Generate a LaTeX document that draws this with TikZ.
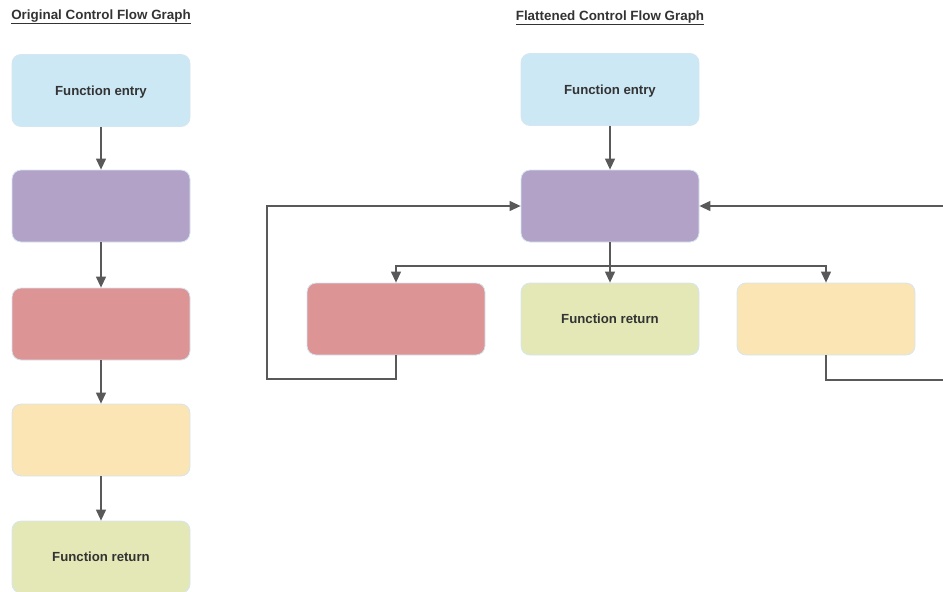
\documentclass[tikz,border=0pt]{standalone}
\usepackage{fontspec}
\setmainfont{Liberation Sans}
\usetikzlibrary{arrows.meta}
\definecolor{txt}{HTML}{333333}
\definecolor{wire}{HTML}{595959}
\definecolor{edge}{HTML}{D4E6F2}
\definecolor{cblue}{HTML}{CDE8F5}
\definecolor{cpurple}{HTML}{B3A2C7}
\definecolor{cred}{HTML}{DD9494}
\definecolor{cyellow}{HTML}{FCE5B4}
\definecolor{cgreen}{HTML}{E4E8B7}
\tikzset{
  block/.style={draw=edge, line width=0.8pt, rounded corners=9pt,
    minimum width=178pt, minimum height=72pt, inner sep=0pt,
    text height=12.4pt, text depth=3pt,
    text=txt, font=\fontsize{13.2}{15}\selectfont\bfseries},
  title/.style={text=txt, font=\fontsize{13.4}{15}\selectfont\bfseries, inner sep=0pt},
  flow/.style={draw=wire, line width=1.2pt, -{Triangle[length=11pt,width=10pt]}},
  wireline/.style={draw=wire, line width=1.2pt}
}
\begin{document}
\begin{tikzpicture}[x=1pt,y=-1pt]
\useasboundingbox (0,0) rectangle (943,592);

% titles
\node[title] (t1) at (101,17) {\underline{Original Control Flow Graph}};
\node[title] (t2) at (610,18) {\underline{Flattened Control Flow Graph}};

% original control flow graph
\node[block, fill=cblue]   (a1) at (101,90.5) {Function entry};
\node[block, fill=cpurple] (a2) at (101,206) {};
\node[block, fill=cred]    (a3) at (101,324) {};
\node[block, fill=cyellow] (a4) at (101,440) {};
\node[block, fill=cgreen]  (a5) at (101,557) {Function return};

\draw[flow] (a1) -- (a2);
\draw[flow] (a2) -- (a3);
\draw[flow] (a3) -- (a4);
\draw[flow] (a4) -- (a5);

% flattened control flow graph
\node[block, fill=cblue]   (b1) at (610,89.5) {Function entry};
\node[block, fill=cpurple] (b2) at (610,206) {};
\node[block, fill=cred]    (b3) at (396,319) {};
\node[block, fill=cgreen]  (b4) at (610,319) {Function return};
\node[block, fill=cyellow] (b5) at (826,319) {};

\coordinate (split) at (610,266);
\coordinate (lloop) at (267,379);
\coordinate (rloop) at (943,380);
\coordinate (rback) at (943,206);

\draw[flow] (b1) -- (b2);
\draw[flow] (b2) -- (b4);
\draw[wireline] (b2.south) -- (split);
\draw[flow] (split) -| (b3.north);
\draw[flow] (split) -| (b5.north);

% dispatcher loops
\draw[flow] (b3.south) |- (lloop) |- (b2.west);
\draw[wireline] (b5.south) |- (rloop);
\draw[flow] (rback) -- (b2.east);
\end{tikzpicture}
\end{document}
